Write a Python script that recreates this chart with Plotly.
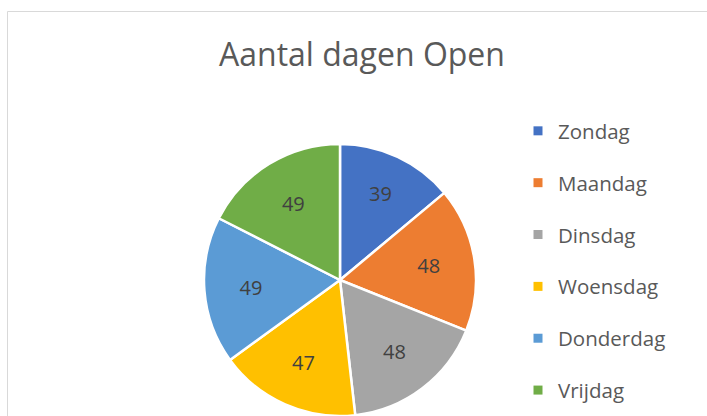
import plotly.graph_objects as go

days = ["Zondag", "Maandag", "Dinsdag", "Woensdag", "Donderdag", "Vrijdag"]
values = [39, 48, 48, 47, 49, 49]
colors = ["#4472C4", "#ED7D31", "#A5A5A5", "#FFC000", "#5B9BD5", "#70AD47"]
title_text = "Aantal dagen Open"

W, H = 707, 416
FONT = "Open Sans"

fig = go.Figure()

fig.add_trace(go.Pie(
    labels=days,
    values=values,
    sort=False,
    direction="clockwise",
    rotation=0,
    marker=dict(colors=colors, line=dict(color="white", width=2.5)),
    textinfo="value",
    textposition="inside",
    insidetextorientation="horizontal",
    textfont=dict(family=FONT, size=20, color="#404040"),
    domain=dict(x=[204 / W, 476 / W], y=[0, 272 / H]),
    showlegend=False,
    hoverinfo="label+value",
))

# legend entries (one group each so the spacing can be set)
for d, c in zip(days, colors):
    fig.add_trace(go.Scatter(
        x=[None], y=[None], mode="markers", name=d,
        marker=dict(symbol="square", size=9, color=c),
        legendgroup=d, showlegend=True,
    ))

fig.update_layout(
    width=W, height=H,
    margin=dict(l=0, r=0, t=0, b=0, autoexpand=False),
    paper_bgcolor="white", plot_bgcolor="white",
    xaxis=dict(visible=False), yaxis=dict(visible=False),
    title=dict(text=title_text, x=362 / W, xanchor="center",
               y=1 - 55 / H, yanchor="middle", yref="container",
               font=dict(family=FONT, size=32, color="#595959")),
    legend=dict(x=518 / W, xanchor="left", y=1 - 111 / H, yanchor="top",
                font=dict(family=FONT, size=20.5, color="#595959"),
                tracegroupgap=22.2, bgcolor="rgba(0,0,0,0)"),
    shapes=[dict(type="rect", xref="paper", yref="paper",
                 x0=7.5 / W, x1=1.2, y0=-0.2, y1=1 - 11.5 / H,
                 line=dict(color="#D9D9D9", width=1), layer="below")],
)

fig.write_html("out.html",
               config={"displayModeBar": False},
               post_script="document.body.style.margin='0';document.body.style.overflow='hidden';")
